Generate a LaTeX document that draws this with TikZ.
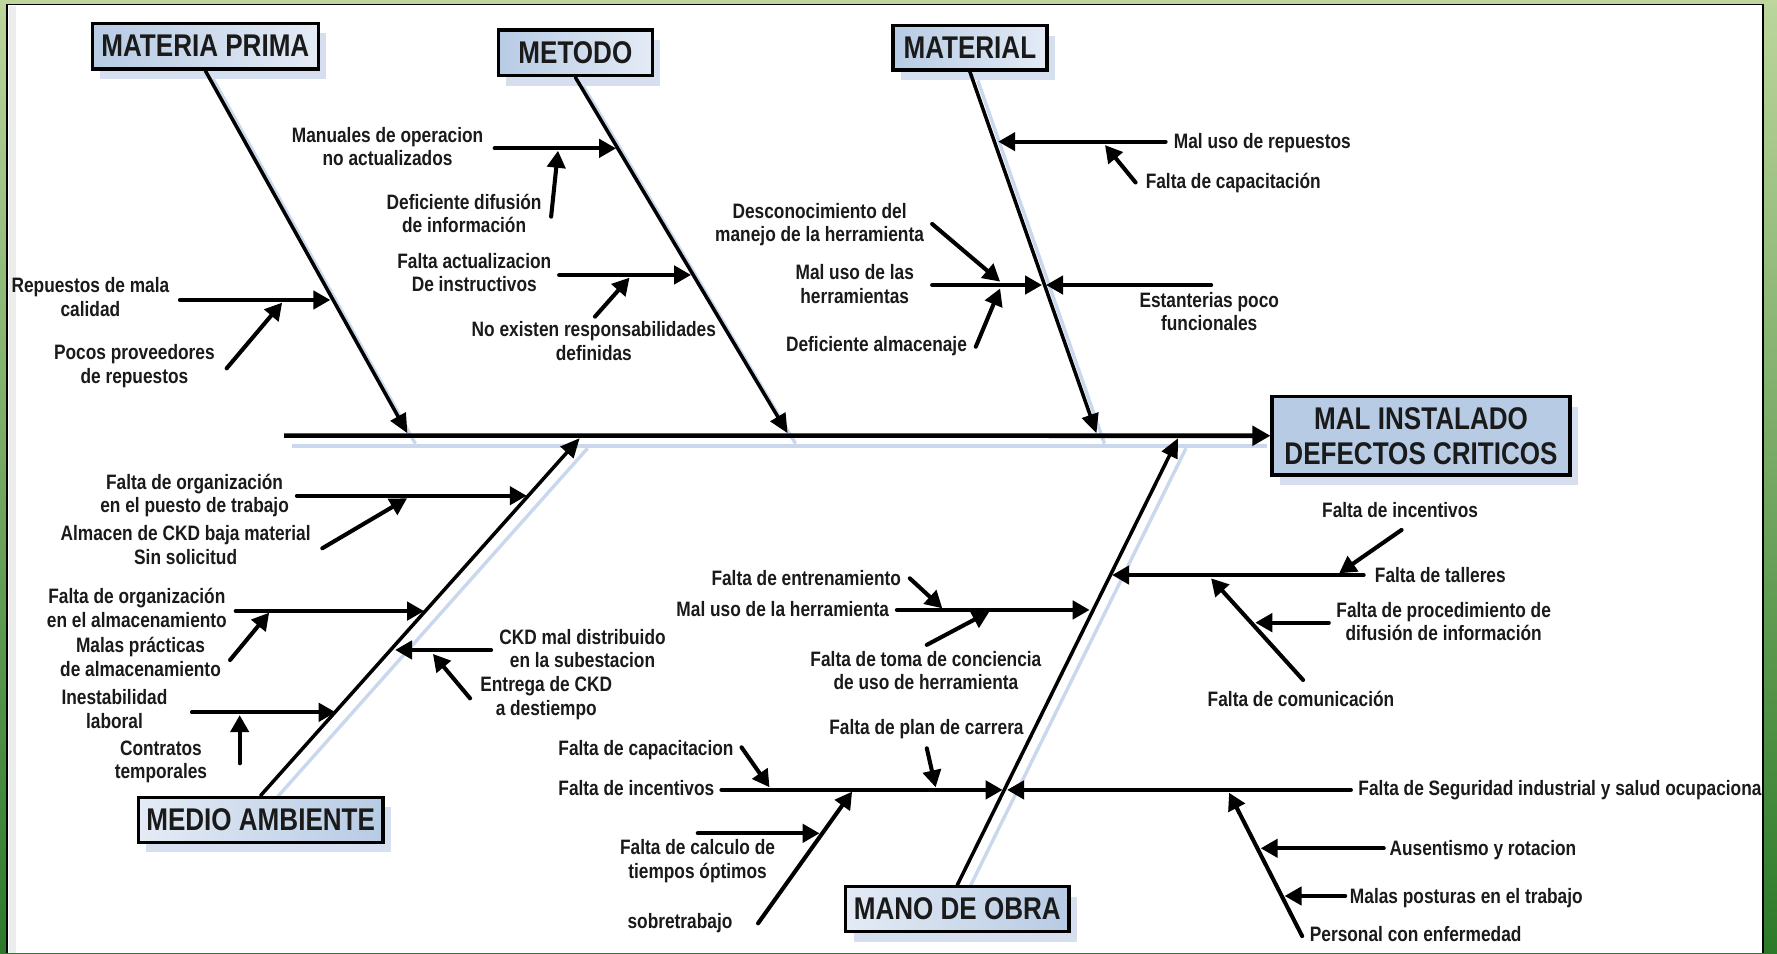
\documentclass[tikz,border=0pt]{standalone}
\usepackage{fontspec}
\newfontfamily\nar{Liberation Sans}[FakeStretch=0.83]
\usetikzlibrary{arrows.meta,shadows}
\definecolor{txt}{HTML}{1A1A1A}
\definecolor{shad}{HTML}{D5DFEF}
\definecolor{lshad}{HTML}{CAD8EE}
\definecolor{boxA}{HTML}{B7CBE4}
\definecolor{boxB}{HTML}{E4EBF5}
\definecolor{gTop}{HTML}{BCD69C}
\definecolor{gBot}{HTML}{2C7A29}
\newcommand\lblfont{\nar\bfseries\fontsize{18.4}{20.7}\selectfont}
\newcommand\bxfont{\nar\bfseries\fontsize{27.7}{31}\selectfont}
\tikzset{
 lbl/.style={font=\lblfont, text=txt, align=center, inner sep=0pt, anchor=north, execute at begin node=\strut},
 lbll/.style={lbl, anchor=north west, align=left},
 bshadow/.style={drop shadow={shadow xshift=7pt, shadow yshift=-9pt, opacity=1, fill=shad, draw=none}},
 cat/.style={draw=black, line width=3pt, font=\bxfont, text=txt, inner sep=0pt, left color=boxA, right color=boxB, bshadow},
 catr/.style={cat, left color=boxB, right color=boxA},
 sub/.style={line width=3.6pt, line cap=round, -{Triangle[length=15pt,width=16pt]}},
 spine/.style={line width=3.1pt, line cap=round, -{Triangle[length=17pt,width=15pt]}},
 sline/.style={line width=3pt, draw=lshad},
}
\begin{document}
\begin{tikzpicture}[x=1pt,y=-1pt]
\useasboundingbox (0,0) rectangle (1568,841);
% frame
\shade[top color=gTop, bottom color=gBot] (0,0) rectangle (1568,841);
\fill[white] (6.5,4) rectangle (1555.6,841);
\fill[black!7] (7.6,5) rectangle (14.5,841);
\draw[line width=1.6pt] (6.5,841) -- (6.5,4) -- (1555.6,4) -- (1555.6,841);

% line shadows
\draw[sline] (258,393.5) -- (1118,393.5);
\draw[sline] (188.2,70) -- (366.5,391.5);
\draw[sline] (514.7,76) -- (702,391.5);
\draw[sline] (862.8,71) -- (974.5,391.5);
\draw[sline] (237,712) -- (518.5,395.5);
\draw[sline] (851.7,791) -- (1046.5,395.5);

% boxes
\node[cat, minimum width=199.5pt, minimum height=40.4pt] (mp) at (181.2,40.7) {MATERIA PRIMA};
\node[cat, minimum width=135.6pt, minimum height=40.2pt] (met) at (507.7,46.6) {METODO};
\node[cat, minimum width=136pt, minimum height=39pt] (mat) at (855.8,42.2) {MATERIAL};
\node[catr, minimum width=216pt, minimum height=39.7pt] (ma) at (230,723.3) {MEDIO AMBIENTE};
\node[catr, minimum width=196.8pt, minimum height=39.6pt] (mo) at (844.7,802.2) {MANO DE OBRA};
\node[draw=black, line width=3pt, fill=boxA, font=\bxfont, text=txt, inner sep=0pt, align=center, bshadow,
      minimum width=262.7pt, minimum height=69pt] (eff) at (1253.9,384.5) {MAL INSTALADO\\DEFECTOS CRITICOS};

% main line and spines
\coordinate (ms) at (250.8,384.4);
\coordinate (mpT) at (359.5,382.3);
\coordinate (metT) at (695,382.3);
\coordinate (matT) at (967.5,382.3);
\coordinate (maT) at (511.5,386.6);
\coordinate (moT) at (1039.5,386.6);
\draw[line width=4pt, -{Triangle[length=16pt,width=17pt]}] (ms) -- (eff.west);
\draw[spine] (mp.south) -- (mpT);
\draw[spine] (met.south) -- (metT);
\draw[spine] (mat.south) -- (matT);
\draw[spine] (ma.north) -- (maT);
\draw[spine] (mo.north) -- (moT);

% sub-branch end points
\coordinate (a1s) at (158.8,264.7);  \coordinate (a1e) at (291.5,264.7);
\coordinate (a2s) at (200,325);      \coordinate (a2e) at (249,267);
\coordinate (a3s) at (436.5,130.9);  \coordinate (a3e) at (543.6,130.9);
\coordinate (a4s) at (486.3,191.2);  \coordinate (a4e) at (492.4,133);
\coordinate (a5s) at (493.4,242.6);  \coordinate (a5e) at (609.8,242.6);
\coordinate (a6s) at (525,279.4);    \coordinate (a6e) at (555.5,245);
\coordinate (a7s) at (1028.5,125);   \coordinate (a7e) at (880.8,125);
\coordinate (a8s) at (1002,161);     \coordinate (a8e) at (975,128);
\coordinate (a9s) at (822.5,197.6);  \coordinate (a9e) at (882.5,248.5);
\coordinate (a10s) at (822.5,251.5); \coordinate (a10e) at (919.5,251.5);
\coordinate (a11s) at (861,306);     \coordinate (a11e) at (882.5,254.5);
\coordinate (a12s) at (1068.7,251.5);\coordinate (a12e) at (923,251.5);
\coordinate (b1s) at (262,437.4);    \coordinate (b1e) at (464.8,437.4);
\coordinate (b2s) at (284.4,483.8);  \coordinate (b2e) at (359.2,439.7);
\coordinate (b3s) at (208,539.2);    \coordinate (b3e) at (374.2,539.2);
\coordinate (b4s) at (203,582.4);    \coordinate (b4e) at (237.5,540.6);
\coordinate (b5s) at (169.4,628.5);  \coordinate (b5e) at (296.2,628.5);
\coordinate (b6s) at (211.5,673.5);  \coordinate (b6e) at (211.5,631);
\coordinate (b7s) at (433.3,573.5);  \coordinate (b7e) at (348.6,573.5);
\coordinate (b8s) at (414.8,616.2);  \coordinate (b8e) at (382,577);
\coordinate (c1s) at (802.8,510.3);  \coordinate (c1e) at (831.5,536.8);
\coordinate (c2s) at (791.4,538.2);  \coordinate (c2e) at (961.5,538.2);
\coordinate (c3s) at (817.8,569);    \coordinate (c3e) at (873,539.7);
\coordinate (c4s) at (1203.3,507.4); \coordinate (c4e) at (981.3,507.4);
\coordinate (c5s) at (1236.7,467.6); \coordinate (c5e) at (1181.6,505.9);
\coordinate (c6s) at (1172.5,549.4); \coordinate (c6e) at (1107.6,549.4);
\coordinate (c7s) at (1149.8,600);   \coordinate (c7e) at (1068.6,510.3);
\coordinate (c8s) at (817.8,660.3);  \coordinate (c8e) at (825.6,694.7);
\coordinate (c9s) at (654.3,659.4);  \coordinate (c9e) at (679,694.7);
\coordinate (c10s) at (636.6,697);   \coordinate (c10e) at (884.7,697);
\coordinate (c11s) at (615.7,735.3); \coordinate (c11e) at (723.2,735.3);
\coordinate (c12s) at (668.9,814.7); \coordinate (c12e) at (751.9,698.5);
\coordinate (c13s) at (1192,697);    \coordinate (c13e) at (888.6,697);
\coordinate (c14s) at (1149,826);    \coordinate (c14e) at (1084.5,699.5);
\coordinate (c15s) at (1221,748.5);  \coordinate (c15e) at (1112.4,748.5);
\coordinate (c16s) at (1187,790.6);  \coordinate (c16e) at (1133.5,790.6);

\foreach \n in {a1,a2,a3,a4,a5,a6,a7,a8,a9,a10,a11,a12,b1,b2,b3,b4,b5,b6,b7,b8,
                c1,c2,c3,c4,c5,c6,c7,c8,c9,c10,c11,c12,c13,c14,c15,c16}
  \draw[sub] (\n s) -- (\n e);

% labels
\node[lbl] (t1) at (79.8,245) {Repuestos de mala\\calidad};
\node[lbl] (t2) at (118.6,304.1) {Pocos proveedores\\de repuestos};
\node[lbl] (t3) at (342,112.1) {Manuales de operacion\\no actualizados};
\node[lbl] (t4) at (409.5,170.9) {Deficiente difusión\\de información};
\node[lbl] (t5) at (418.5,223) {Falta actualizacion\\De instructivos};
\node[lbl] (t6) at (524,283.5) {No existen responsabilidades\\definidas};
\node[lbl] (t7) at (723.2,178.9) {Desconocimiento del\\manejo de la herramienta};
\node[lbl] (t8) at (754.2,233.3) {Mal uso de las\\herramientas};
\node[lbl] (t9) at (773.4,295.9) {Deficiente almacenaje};
\node[lbl] (t10) at (1067,257.7) {Estanterias poco\\funcionales};
\node[lbll] (t11) at (1035.6,116.5) {Mal uso de repuestos};
\node[lbll] (t12) at (1010.8,151.8) {Falta de capacitación};
\node[lbl] (t13) at (171.7,418) {Falta de organización\\en el puesto de trabajo};
\node[lbl] (t14) at (163.8,463.5) {Almacen de CKD baja material\\Sin solicitud};
\node[lbl] (t15) at (120.8,518.9) {Falta de organización\\en el almacenamiento};
\node[lbl] (t16) at (124,562.1) {Malas prácticas\\de almacenamiento};
\node[lbl] (t17) at (101,608.5) {Inestabilidad\\laboral};
\node[lbl] (t18) at (142,653.3) {Contratos\\temporales};
\node[lbl] (t19) at (514,554.8) {CKD mal distribuido\\en la subestacion};
\node[lbl] (t20) at (482,596.8) {Entrega de CKD\\a destiempo};
\node[lbl] (t21) at (711.4,501.8) {Falta de entrenamiento};
\node[lbl] (t22) at (690.7,529.7) {Mal uso de la herramienta};
\node[lbl] (t23) at (817,574.5) {Falta de toma de conciencia\\de uso de herramienta};
\node[lbl] (t24) at (817.5,633.3) {Falta de plan de carrera};
\node[lbl] (t25) at (570,651.5) {Falta de capacitacion};
\node[lbl] (t26) at (561.5,687.5) {Falta de incentivos};
\node[lbl] (t27) at (615.5,740.5) {Falta de calculo de\\tiempos óptimos};
\node[lbl] (t28) at (600,804.5) {sobretrabajo};
\node[lbl] (t29) at (1235.4,441.5) {Falta de incentivos};
\node[lbll] (t30) at (1213,498.9) {Falta de talleres};
\node[lbl] (t31) at (1273.9,531.2) {Falta de procedimiento de\\difusión de información};
\node[lbl] (t32) at (1148,608.5) {Falta de comunicación};
\node[lbll] (t33) at (1198.5,687.5) {Falta de Seguridad industrial y salud ocupacional};
\node[lbll] (t34) at (1226,740) {Ausentismo y rotacion};
\node[lbll] (t35) at (1191,782.1) {Malas posturas en el trabajo};
\node[lbll] (t36) at (1155.6,816.5) {Personal con enfermedad};

% right frame strip (clips long text)
\shade[top color=gTop, bottom color=gBot] (1556.4,0) rectangle (1568,841);
\draw[line width=1.6pt] (1555.6,4) -- (1555.6,841);
\end{tikzpicture}
\end{document}
